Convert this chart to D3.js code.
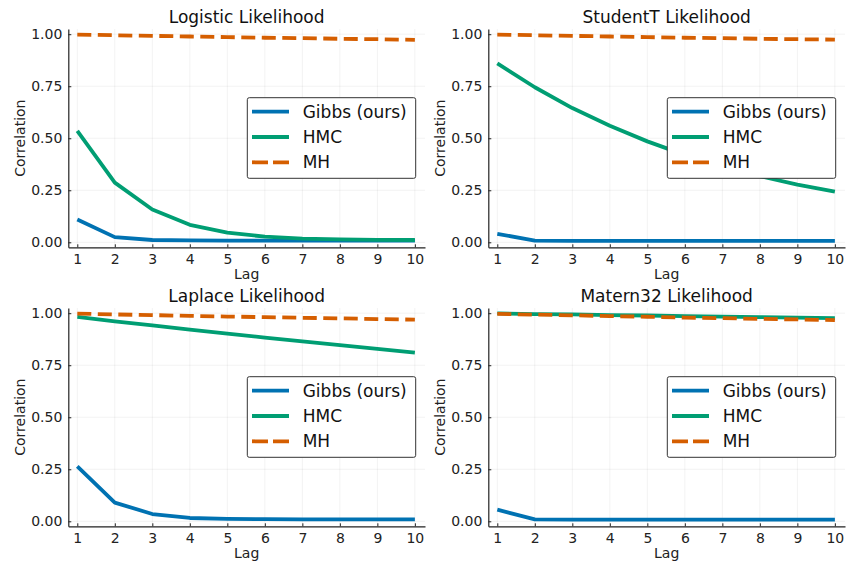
<!DOCTYPE html>
<html>
<head>
<meta charset="utf-8">
<script src="https://cdn.jsdelivr.net/npm/d3@7"></script>
<style>
  body { margin: 0; background: #fff; }
  svg { display: block; font-family: "DejaVu Sans", sans-serif; }
</style>
</head>
<body>
<div id="chart"></div>
<script>
const lags = [1, 2, 3, 4, 5, 6, 7, 8, 9, 10]
const yTicks = [0, 0.25, 0.5, 0.75, 1]
const seriesNames = ["Gibbs (ours)", "HMC", "MH"]
const panelTitles = ["Logistic Likelihood", "StudentT Likelihood", "Laplace Likelihood", "Matern32 Likelihood"]

const logisticGibbs = [0.11, 0.025, 0.011, 0.009, 0.008, 0.008, 0.008, 0.008, 0.008, 0.008]
const logisticHMC = [0.535, 0.287, 0.158, 0.084, 0.047, 0.027, 0.018, 0.014, 0.012, 0.011]
const logisticMH = [0.998, 0.995, 0.992, 0.989, 0.986, 0.983, 0.981, 0.978, 0.976, 0.973]

const studentGibbs = [0.041, 0.008, 0.007, 0.007, 0.007, 0.007, 0.007, 0.007, 0.007, 0.007]
const studentHMC = [0.86, 0.745, 0.645, 0.56, 0.485, 0.42, 0.366, 0.318, 0.277, 0.243]
const studentMH = [0.998, 0.995, 0.992, 0.989, 0.986, 0.983, 0.981, 0.978, 0.976, 0.974]

const laplaceGibbs = [0.264, 0.09, 0.035, 0.016, 0.012, 0.01, 0.009, 0.009, 0.009, 0.009]
const laplaceHMC = [0.982, 0.961, 0.941, 0.921, 0.902, 0.883, 0.865, 0.847, 0.829, 0.811]
const laplaceMH = [0.998, 0.994, 0.991, 0.987, 0.984, 0.981, 0.978, 0.975, 0.972, 0.969]

const maternGibbs = [0.056, 0.009, 0.008, 0.008, 0.008, 0.008, 0.008, 0.008, 0.008, 0.008]
const maternHMC = [0.999, 0.996, 0.994, 0.991, 0.989, 0.986, 0.984, 0.981, 0.979, 0.976]
const maternMH = [0.997, 0.993, 0.99, 0.986, 0.983, 0.979, 0.976, 0.973, 0.97, 0.967]

const panels = [
    {title: panelTitles[0], values: [logisticGibbs, logisticHMC, logisticMH], dx: 0, dy: 0},
    {title: panelTitles[1], values: [studentGibbs, studentHMC, studentMH], dx: 420, dy: 0},
    {title: panelTitles[2], values: [laplaceGibbs, laplaceHMC, laplaceMH], dx: 0, dy: 279},
    {title: panelTitles[3], values: [maternGibbs, maternHMC, maternMH], dx: 420, dy: 279}
]

const colors = ["#0072b2", "#009e73", "#d55e00"]
const dashes = [null, null, "14,6.5"]

const svg = d3.select("#chart")
    .append("svg")
    .attr("width", 848)
    .attr("height", 568)

const x = d3.scaleLinear([0.76, 10.27], [68.3, 425])
const y = d3.scaleLinear([-0.024, 1.025], [247.3, 29])
const fmt = d3.format(".2f")

panels.forEach(p => {
    const g = svg.append("g").attr("transform", `translate(${p.dx},${p.dy})`)

    // grid
    g.append("g").selectAll("line").data(lags).join("line")
        .attr("x1", d => x(d)).attr("x2", d => x(d))
        .attr("y1", y.range()[0]).attr("y2", y.range()[1])
        .attr("stroke", "#000").attr("stroke-opacity", 0.09).attr("stroke-width", 0.6)
    g.append("g").selectAll("line").data(yTicks).join("line")
        .attr("y1", d => y(d)).attr("y2", d => y(d))
        .attr("x1", x.range()[0]).attr("x2", x.range()[1])
        .attr("stroke", "#000").attr("stroke-opacity", 0.09).attr("stroke-width", 0.6)

    // series
    const line = d3.line().x((d, i) => x(lags[i])).y(d => y(d))
    p.values.forEach((vals, k) => {
        g.append("path")
            .datum(vals)
            .attr("fill", "none")
            .attr("stroke", colors[k])
            .attr("stroke-width", 3.8)
            .attr("stroke-dasharray", dashes[k])
            .attr("stroke-linejoin", "round")
            .attr("d", line)
    })

    // axes
    const xAxis = d3.axisBottom(x).tickValues(lags).tickSizeInner(-3).tickSizeOuter(0).tickPadding(7)
    const yAxis = d3.axisLeft(y).tickValues(yTicks).tickFormat(fmt).tickSizeInner(-3).tickSizeOuter(0).tickPadding(6)
    const gx = g.append("g").attr("transform", `translate(0,${y.range()[0]})`).call(xAxis)
    const gy = g.append("g").attr("transform", `translate(${x.range()[0]},0)`).call(yAxis)
    ;[gx, gy].forEach(a => {
        a.select(".domain").attr("stroke", "#222").attr("stroke-width", 1.2)
        a.selectAll(".tick line").attr("stroke", "#222")
        a.selectAll("text").attr("font-size", 14).attr("fill", "#222")
            .attr("font-family", "DejaVu Sans, sans-serif")
    })
    gx.selectAll("text").attr("dy", "0.71em")

    // labels
    g.append("text")
        .attr("x", (x.range()[0] + x.range()[1]) / 2).attr("y", 23)
        .attr("text-anchor", "middle").attr("font-size", 17).attr("fill", "#111")
        .text(p.title)
    g.append("text")
        .attr("x", (x.range()[0] + x.range()[1]) / 2).attr("y", 279)
        .attr("text-anchor", "middle").attr("font-size", 14).attr("fill", "#222")
        .text("Lag")
    g.append("text")
        .attr("transform", `translate(25,${(y.range()[0] + y.range()[1]) / 2}) rotate(-90)`)
        .attr("text-anchor", "middle").attr("font-size", 14).attr("fill", "#222")
        .text("Correlation")

    // legend
    const lg = g.append("g")
    lg.append("rect")
        .attr("x", 247.3).attr("y", 97.7).attr("width", 168.4).attr("height", 80.6)
        .attr("rx", 2).attr("fill", "#fff").attr("stroke", "#333").attr("stroke-width", 1)
    const rows = lg.selectAll("g.row").data(seriesNames).join("g")
        .attr("class", "row")
        .attr("transform", (d, i) => `translate(0,${111.7 + i * 25.3})`)
    rows.append("line")
        .attr("x1", 252).attr("x2", 289)
        .attr("stroke", (d, i) => colors[i])
        .attr("stroke-width", 3.8)
        .attr("stroke-dasharray", (d, i) => i === 2 ? "16,5" : null)
    rows.append("text")
        .attr("x", 302.7).attr("dy", "0.36em")
        .attr("font-size", 17).attr("fill", "#111")
        .text(d => d)
})
</script>
</body>
</html>
